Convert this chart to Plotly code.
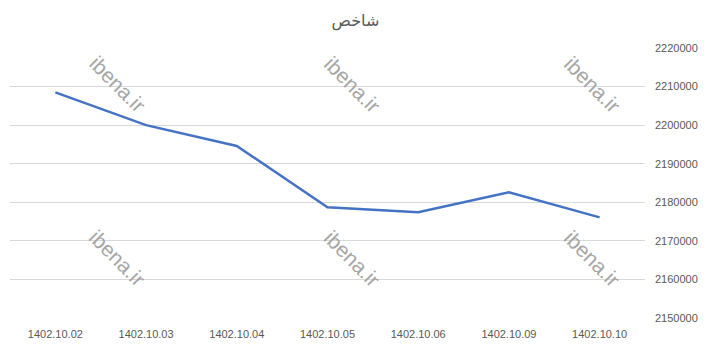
import plotly.graph_objects as go

categories = ["1402.10.02", "1402.10.03", "1402.10.04", "1402.10.05", "1402.10.06", "1402.10.09", "1402.10.10"]
values = [2208500, 2200000, 2194600, 2178700, 2177400, 2182600, 2176100]
y_ticks = [2150000, 2160000, 2170000, 2180000, 2190000, 2200000, 2210000, 2220000]
title_text = "شاخص"
watermark = "ibena.ir"

fig = go.Figure()
fig.add_trace(go.Scatter(
    x=categories, y=values, mode="lines",
    line=dict(color="#4472C4", width=2.5),
    showlegend=False, hoverinfo="x+y",
))

wm_pos = [(0.17, 0.865), (0.539, 0.865), (0.917, 0.865),
          (0.17, 0.222), (0.539, 0.222), (0.917, 0.222)]
for (px, py) in wm_pos:
    fig.add_annotation(
        x=px, y=py, xref="paper", yref="paper", text=watermark,
        xanchor="center", yanchor="middle",
        showarrow=False, textangle=45,
        font=dict(family="Liberation Sans, Arial", size=21, color="#a6a6a6"),
    )

fig.update_layout(
    width=711, height=347,
    margin=dict(l=10, r=66, t=48, b=29),
    paper_bgcolor="white", plot_bgcolor="white",
    title=dict(text=title_text, x=0.5, xanchor="center", y=0.94, yanchor="middle",
               font=dict(family="DejaVu Sans", size=16, color="#595959")),
    font=dict(family="Liberation Sans Narrow, Liberation Sans, Arial", size=11, color="#595959"),
)
fig.update_xaxes(
    type="category", showgrid=False, showline=False, ticks="",
    range=[-0.5, len(categories) - 0.5], automargin=False,
    ticklabelstandoff=8,
    tickfont=dict(size=11, color="#595959"),
)
fig.update_yaxes(
    side="right", range=[y_ticks[0], y_ticks[-1]], tickvals=y_ticks,
    ticktext=[str(v) for v in y_ticks], automargin=False,
    showgrid=True, gridcolor="#d9d9d9", gridwidth=1, zeroline=False,
    showline=False, ticks="", ticklabelstandoff=9,
    tickfont=dict(size=11, color="#595959"),
)

fig.write_html("out.html")
